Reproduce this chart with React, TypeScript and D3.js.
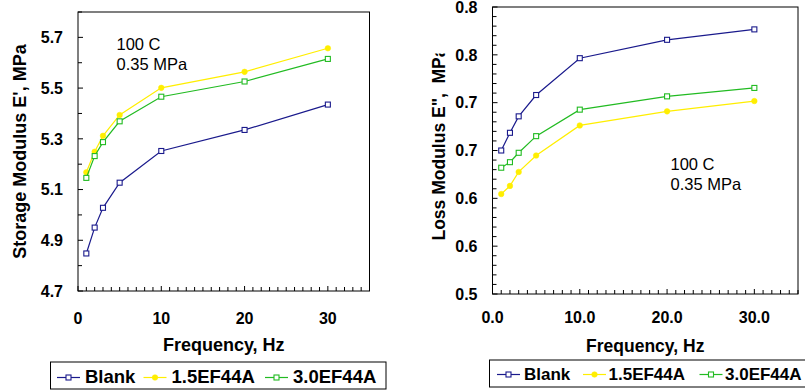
import React from "react";
import * as d3 from "d3";

// ---- data ----
const frequency = [1, 2, 3, 5, 10, 20, 30];
const seriesNames = ["Blank", "1.5EF44A", "3.0EF44A"];

const storageBlank = [4.848, 4.95, 5.028, 5.127, 5.252, 5.335, 5.435];
const storage15 = [5.168, 5.249, 5.312, 5.394, 5.501, 5.564, 5.657];
const storage30 = [5.146, 5.232, 5.287, 5.369, 5.466, 5.526, 5.615];

const lossBlank = [0.65, 0.6685, 0.6857, 0.708, 0.7465, 0.7657, 0.7766];
const loss15 = [0.6045, 0.613, 0.6276, 0.6448, 0.6762, 0.6909, 0.7017];
const loss30 = [0.632, 0.6378, 0.6476, 0.665, 0.6927, 0.7066, 0.7154];

const storageTicks = [4.7, 4.9, 5.1, 5.3, 5.5, 5.7];
const storageTickLabels = ["4.7", "4.9", "5.1", "5.3", "5.5", "5.7"];
const lossTicks = [0.5, 0.55, 0.6, 0.65, 0.7, 0.75, 0.8];
const lossTickLabels = ["0.5", "0.6", "0.6", "0.7", "0.7", "0.8", "0.8"];
const freqTicks = [0, 10, 20, 30];
const freqTickLabelsLeft = ["0", "10", "20", "30"];
const freqTickLabelsRight = ["0.0", "10.0", "20.0", "30.0"];

const annotation = ["100 C", "0.35 MPa"];

// ---- styles ----
const COLORS = ["#1a1a8c", "#ffee00", "#22bb22"];
const MARKERS = ["square", "circle", "square"];
const FONT = "'Liberation Sans', Arial, Helvetica, sans-serif";

type PanelProps = {
  x0: number; x1: number; y0: number; y1: number;
  yDomain: [number, number];
  yMinorStep: number;
  yTicks: number[]; yTickLabels: string[];
  xTickLabels: string[];
  series: number[][];
  yTitle: string;
  yTitleX: number;
  yTitleCY?: number;
  yTitleClipTop?: number;
  tickFont: number; titleFont: number;
  xLabelY: number; xTitleY: number; yLabelX: number;
  annX: number; annY: number;
  legend: { x: number; y: number; w: number; h: number; font: number; items: { lx: number; tx: number }[]; baseline: number };
  id: string;
};

function Marker({ type, x, y, color }: { type: string; x: number; y: number; color: string }) {
  if (type === "circle") return <circle cx={x} cy={y} r={2.8} fill={color} stroke={color} strokeWidth={0.5} />;
  return <rect x={x - 2.5} y={y - 2.5} width={5} height={5} fill="#fff" stroke={color} strokeWidth={1.1} />;
}

function Panel(p: PanelProps) {
  const xs = d3.scaleLinear().domain([0, 35]).range([p.x0, p.x1]);
  const ys = d3.scaleLinear().domain(p.yDomain).range([p.y0, p.y1]);
  const line = d3.line<number>().x((_, i) => xs(frequency[i])).y((d) => ys(d));
  const xMinor = d3.range(0, 36, 1);
  const nMinor = Math.round((p.yDomain[1] - p.yDomain[0]) / p.yMinorStep);
  const yMinor = d3.range(0, nMinor + 1).map((i) => p.yDomain[0] + i * p.yMinorStep);
  const isMajorY = (v: number) => p.yTicks.some((t) => Math.abs(t - v) < 1e-6);
  const bottomY = ys(p.yDomain[0]);
  const topY = ys(p.yDomain[1]);
  const cx = (p.x0 + p.x1) / 2;
  const cy = p.yTitleCY !== undefined ? p.yTitleCY : (bottomY + topY) / 2;
  return (
    <g fontFamily={FONT}>
      {p.yTitleClipTop !== undefined && (
        <clipPath id={p.id + "clip"}>
          <rect x={0} y={p.yTitleClipTop} width={805} height={391} />
        </clipPath>
      )}
      {/* frame */}
      <rect x={p.x0} y={topY} width={p.x1 - p.x0} height={bottomY - topY} fill="none" stroke="#000" strokeWidth={1} />
      {/* ticks */}
      {xMinor.map((v) => (
        <line key={"xm" + v} x1={xs(v)} x2={xs(v)} y1={bottomY} y2={bottomY - (v % 10 === 0 ? 5 : 4)} stroke="#000" strokeWidth={1} />
      ))}
      {yMinor.map((v, i) => (
        <line key={"ym" + i} x1={p.x0} x2={p.x0 + (isMajorY(v) ? 5 : 4)} y1={ys(v)} y2={ys(v)} stroke="#000" strokeWidth={1} />
      ))}
      {/* tick labels */}
      {freqTicks.map((v, i) => (
        <text key={"xl" + v} x={xs(v)} y={p.xLabelY} textAnchor="middle" fontWeight="bold" fontSize={p.tickFont}>
          {p.xTickLabels[i]}
        </text>
      ))}
      {p.yTicks.map((v, i) => (
        <text key={"yl" + i} x={p.yLabelX} y={ys(v)} dy="0.36em" textAnchor="end" fontWeight="bold" fontSize={p.tickFont}>
          {p.yTickLabels[i]}
        </text>
      ))}
      {/* titles */}
      <text x={cx} y={p.xTitleY} textAnchor="middle" fontWeight="bold" fontSize={p.titleFont}>
        Frequency, Hz
      </text>
      <g clipPath={p.yTitleClipTop !== undefined ? `url(#${p.id}clip)` : undefined}>
        <text
          transform={`translate(${p.yTitleX},${cy}) rotate(-90)`}
          textAnchor="middle"
          dy="0.36em"
          fontWeight="bold"
          fontSize={p.titleFont}
          style={{ whiteSpace: "pre" }}
        >
          {p.yTitle}
        </text>
      </g>
      {/* annotation */}
      {annotation.map((t, i) => (
        <text key={"an" + i} x={p.annX} y={p.annY + i * 20.5} fontSize={16.5}>
          {t}
        </text>
      ))}
      {/* series */}
      {p.series.map((s, si) => (
        <g key={"s" + si}>
          <path d={line(s) || ""} fill="none" stroke={COLORS[si]} strokeWidth={1.2} />
          {s.map((v, i) => (
            <Marker key={i} type={MARKERS[si]} x={xs(frequency[i])} y={ys(v)} color={COLORS[si]} />
          ))}
        </g>
      ))}
      {/* legend */}
      <rect x={p.legend.x} y={p.legend.y} width={p.legend.w} height={p.legend.h} fill="#fff" stroke="#000" strokeWidth={1} />
      {seriesNames.map((name, si) => {
        const it = p.legend.items[si];
        const ly = p.legend.baseline - 5;
        return (
          <g key={"lg" + si}>
            <line x1={it.lx} x2={it.lx + 23} y1={ly} y2={ly} stroke={COLORS[si]} strokeWidth={1.2} />
            <Marker type={MARKERS[si]} x={it.lx + 11.5} y={ly} color={COLORS[si]} />
            <text x={it.tx} y={p.legend.baseline} fontWeight="bold" fontSize={p.legend.font}>
              {name}
            </text>
          </g>
        );
      })}
    </g>
  );
}

export default function App() {
  return (
    <div style={{ position: "fixed", left: 0, top: 0, width: 805, height: 391, background: "#fff" }}>
      <svg width={805} height={391} viewBox="0 0 805 391" style={{ display: "block" }}>
        <rect width={805} height={391} fill="#fff" />
        <Panel
          id="left"
          x0={78} x1={369.5} y0={291} y1={12}
          yDomain={[4.7, 5.8]} yMinorStep={0.1}
          yTicks={storageTicks} yTickLabels={storageTickLabels}
          xTickLabels={freqTickLabelsLeft}
          series={[storageBlank, storage15, storage30]}
          yTitle="Storage Modulus E', MPa" yTitleX={20}
          tickFont={16} titleFont={18}
          xLabelY={324} xTitleY={351} yLabelX={63}
          annX={116.5} annY={49.5}
          legend={{ x: 50.5, y: 362, w: 335.5, h: 27, font: 18.5, baseline: 382.5,
            items: [{ lx: 57, tx: 85 }, { lx: 143.5, tx: 171.5 }, { lx: 265, tx: 293 }] }}
        />
        <Panel
          id="right"
          x0={492.5} x1={798} y0={294} y1={7}
          yDomain={[0.5, 0.8]} yMinorStep={0.01}
          yTicks={lossTicks} yTickLabels={lossTickLabels}
          xTickLabels={freqTickLabelsRight}
          series={[lossBlank, loss15, loss30]}
          yTitle={'Loss Modulus E",  MPa'} yTitleX={439} yTitleCY={144} yTitleClipTop={53.5}
          tickFont={16} titleFont={17.5}
          xLabelY={323} xTitleY={352} yLabelX={477.5}
          annX={670.5} annY={169.5}
          legend={{ x: 489.5, y: 360, w: 330, h: 27, font: 17, baseline: 379.5,
            items: [{ lx: 497, tx: 524 }, { lx: 583, tx: 608.5 }, { lx: 699.5, tx: 725 }] }}
        />
      </svg>
    </div>
  );
}
